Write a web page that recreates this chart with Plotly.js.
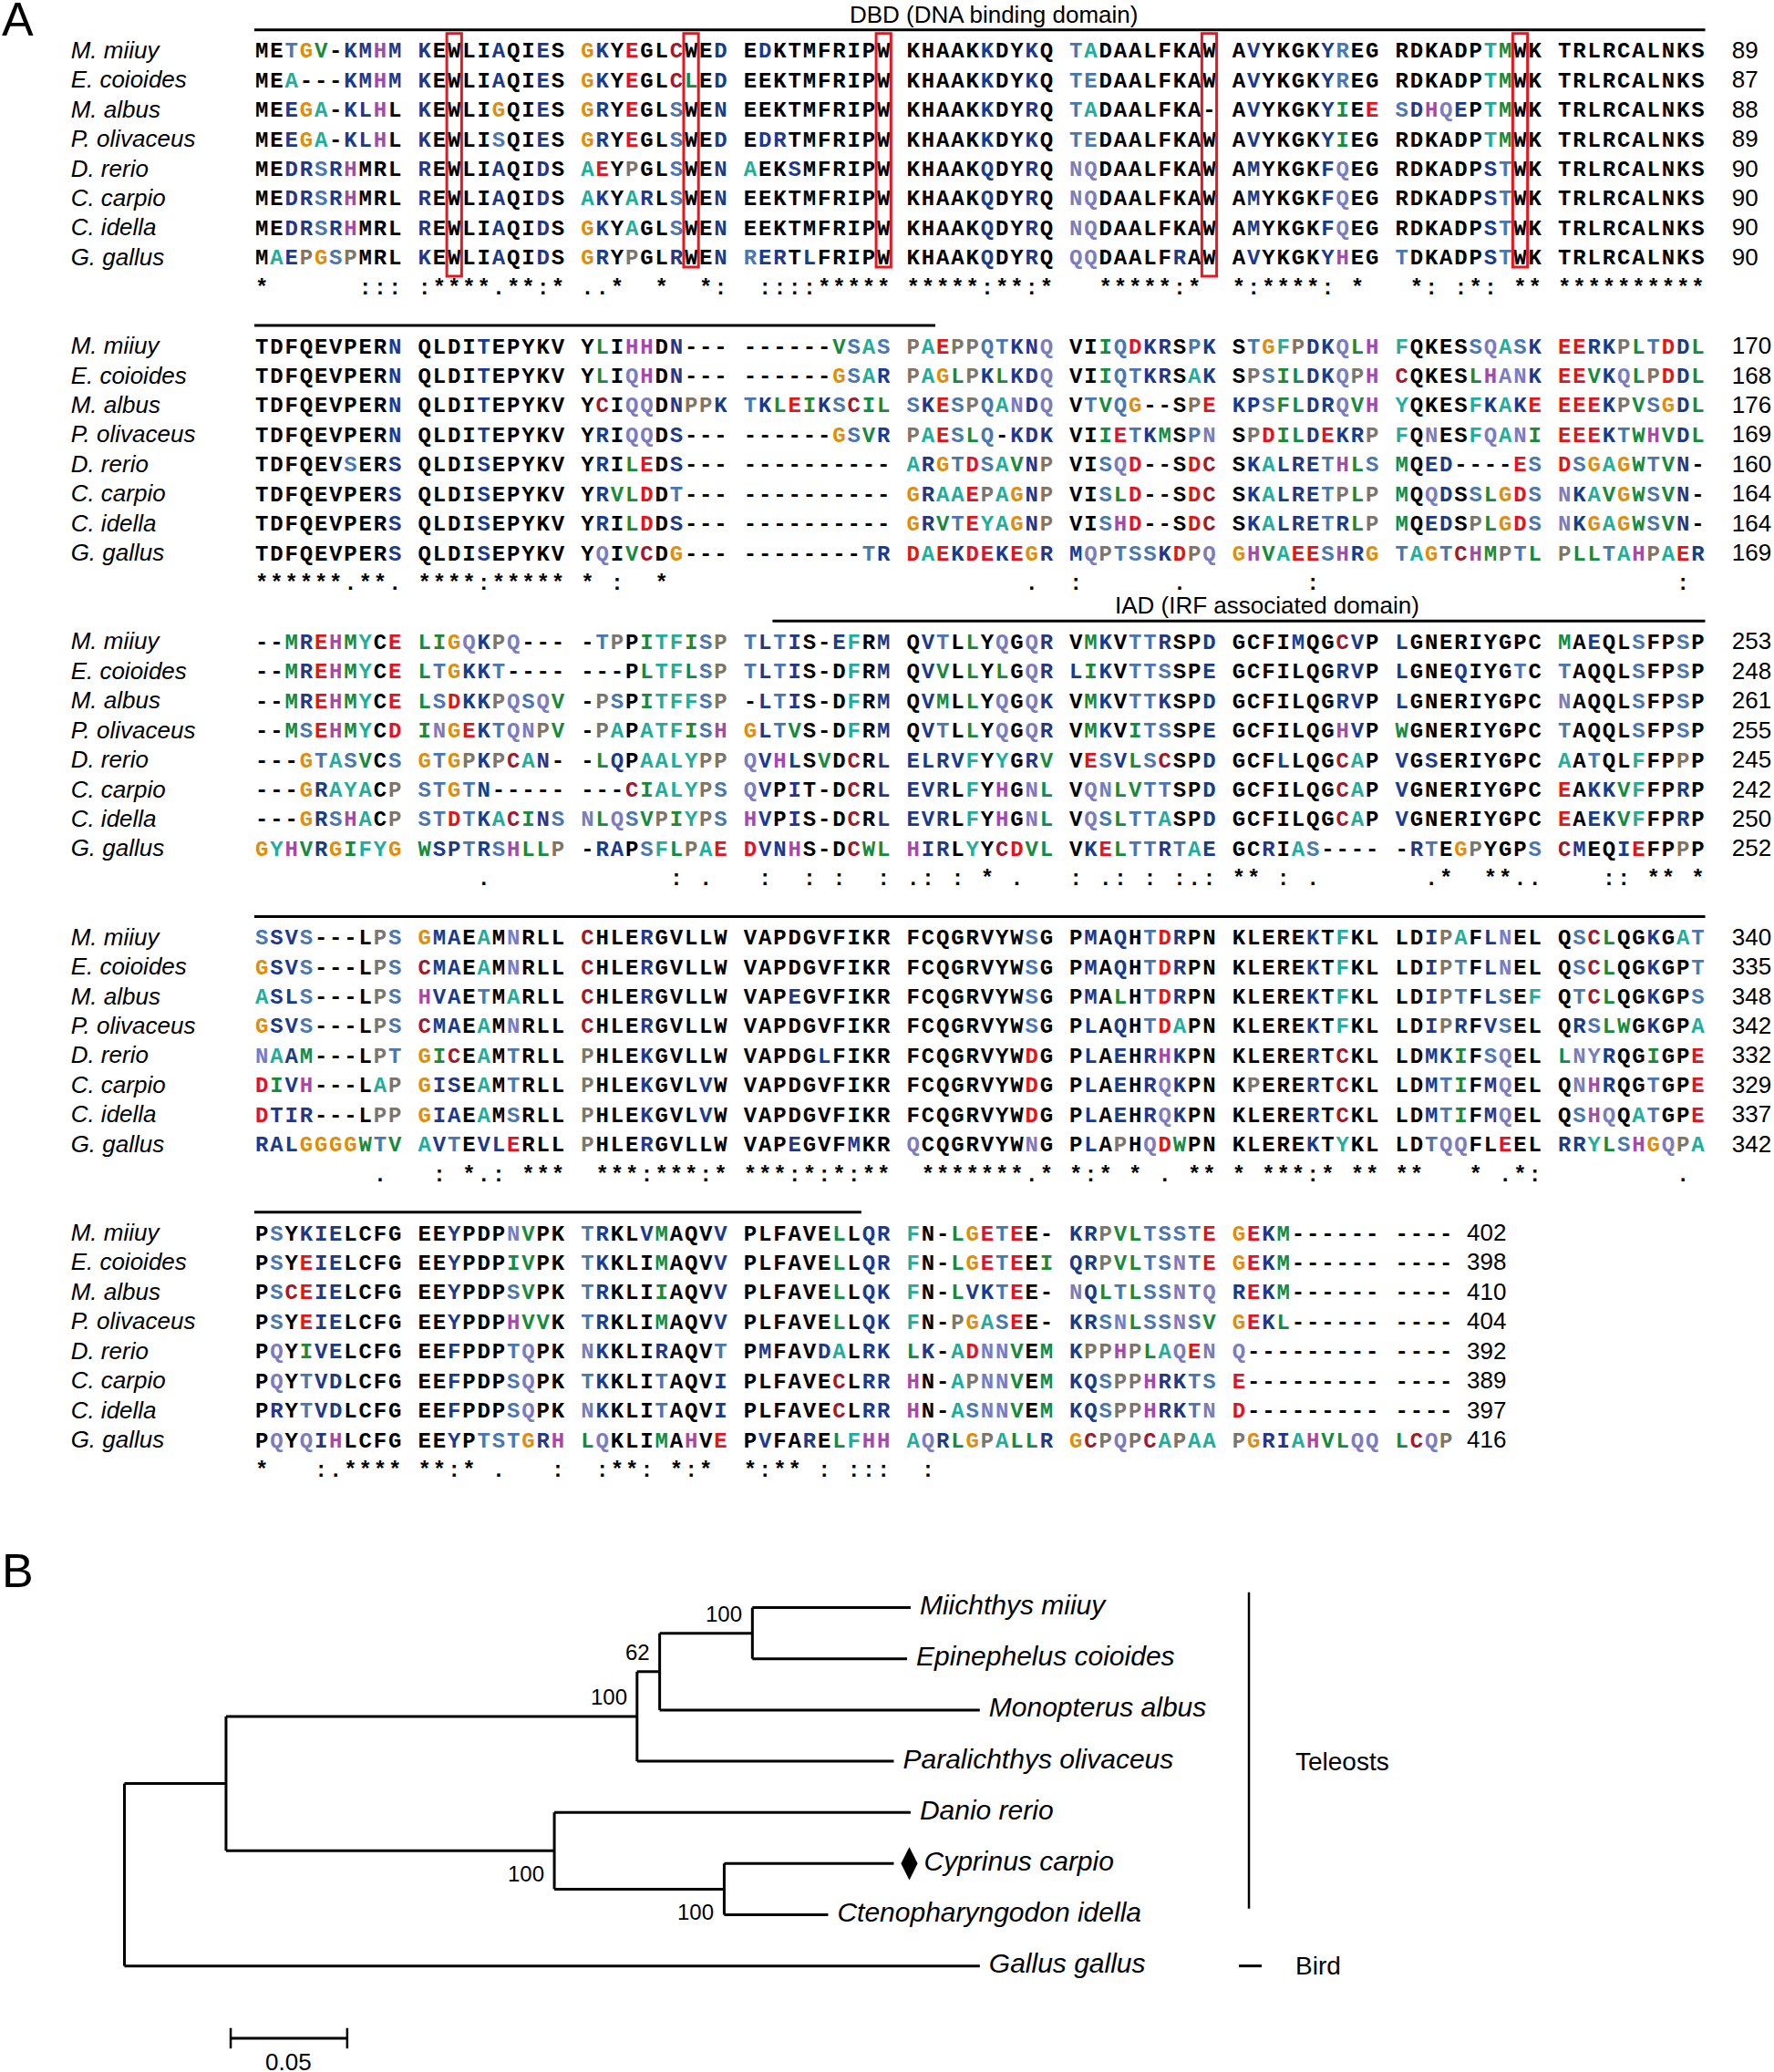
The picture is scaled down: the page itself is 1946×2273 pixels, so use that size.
<!DOCTYPE html>
<html><head><meta charset="utf-8">
<script src="https://cdn.plot.ly/plotly-3.0.1.min.js"></script>
<style>html,body{margin:0;padding:0;background:#fff}</style>
</head><body>
<div id="chart" style="width:1946px;height:2273px"></div>
<script>
// ---------------- DATA ----------------
const speciesShort = ['M. miiuy','E. coioides','M. albus','P. olivaceus','D. rerio','C. carpio','C. idella','G. gallus'];

const sequences = [
 'METGV-KMHM KEWLIAQIES GKYEGLCWED EDKTMFRIPW KHAAKKDYKQ TADAALFKAW AVYKGKYREG RDKADPTMWK TRLRCALNKS TDFQEVPERN QLDITEPYKV YLIHHDN--- ------VSAS PAEPPQTKNQ VIIQDKRSPK STGFPDKQLH FQKESSQASK EERKPLTDDL --MREHMYCE LIGQKPQ--- -TPPITFISP TLTIS-EFRM QVTLLYQGQR VMKVTTRSPD GCFIMQGCVP LGNERIYGPC MAEQLSFPSP SSVS---LPS GMAEAMNRLL CHLERGVLLW VAPDGVFIKR FCQGRVYWSG PMAQHTDRPN KLEREKTFKL LDIPAFLNEL QSCLQGKGAT PSYKIELCFG EEYPDPNVPK TRKLVMAQVV PLFAVELLQR FN-LGETEE- KRPVLTSSTE GEKM------ ----',
 'MEA---KMHM KEWLIAQIES GKYEGLCLED EEKTMFRIPW KHAAKKDYKQ TEDAALFKAW AVYKGKYREG RDKADPTMWK TRLRCALNKS TDFQEVPERN QLDITEPYKV YLIQHDN--- ------GSAR PAGLPKLKDQ VIIQTKRSAK SPSILDKQPH CQKESLHANK EEVKQLPDDL --MREHMYCE LTGKKT---- ---PLTFLSP TLTIS-DFRM QVVLLYLGQR LIKVTTSSPE GCFILQGRVP LGNEQIYGTC TAQQLSFPSP GSVS---LPS CMAEAMNRLL CHLERGVLLW VAPDGVFIKR FCQGRVYWSG PMAQHTDRPN KLEREKTFKL LDIPTFLNEL QSCLQGKGPT PSYEIELCFG EEYPDPIVPK TKKLIMAQVV PLFAVELLQR FN-LGETEEI QRPVLTSNTE GEKM------ ----',
 'MEEGA-KLHL KEWLIGQIES GRYEGLSWEN EEKTMFRIPW KHAAKKDYRQ TADAALFKA- AVYKGKYIEE SDHQEPTMWK TRLRCALNKS TDFQEVPERN QLDITEPYKV YCIQQDNPPK TKLEIKSCIL SKESPQANDQ VTVQG--SPE KPSFLDRQVH YQKESFKAKE EEEKPVSGDL --MREHMYCE LSDKKPQSQV -PSPITFFSP -LTIS-DFRM QVMLLYQGQK VMKVTTKSPD GCFILQGRVP LGNERIYGPC NAQQLSFPSP ASLS---LPS HVAETMARLL CHLERGVLLW VAPEGVFIKR FCQGRVYWSG PMALHTDRPN KLEREKTFKL LDIPTFLSEF QTCLQGKGPS PSCEIELCFG EEYPDPSVPK TRKLIIAQVV PLFAVELLQK FN-LVKTEE- NQLTLSSNTQ REKM------ ----',
 'MEEGA-KLHL KEWLISQIES GRYEGLSWED EDRTMFRIPW KHAAKKDYKQ TEDAALFKAW AVYKGKYIEG RDKADPTMWK TRLRCALNKS TDFQEVPERN QLDITEPYKV YRIQQDS--- ------GSVR PAESLQ-KDK VIIETKMSPN SPDILDEKRP FQNESFQANI EEEKTWHVDL --MSEHMYCD INGEKTQNPV -PAPATFISH GLTVS-DFRM QVTLLYQGQR VMKVITSSPE GCFILQGHVP WGNERIYGPC TAQQLSFPSP GSVS---LPS CMAEAMNRLL CHLERGVLLW VAPDGVFIKR FCQGRVYWSG PLAQHTDAPN KLEREKTFKL LDIPRFVSEL QRSLWGKGPA PSYEIELCFG EEYPDPHVVK TRKLIMAQVV PLFAVELLQK FN-PGASEE- KRSNLSSNSV GEKL------ ----',
 'MEDRSRHMRL REWLIAQIDS AEYPGLSWEN AEKSMFRIPW KHAAKQDYRQ NQDAALFKAW AMYKGKFQEG RDKADPSTWK TRLRCALNKS TDFQEVSERS QLDISEPYKV YRILEDS--- ---------- ARGTDSAVNP VISQD--SDC SKALRETHLS MQED----ES DSGAGWTVN- ---GTASVCS GTGPKPCAN- -LQPAALYPP QVHLSVDCRL ELRVFYYGRV VESVLSCSPD GCFLLQGCAP VGSERIYGPC AATQLFFPPP NAAM---LPT GICEAMTRLL PHLEKGVLLW VAPDGLFIKR FCQGRVYWDG PLAEHRHKPN KLERERTCKL LDMKIFSQEL LNYRQGIGPE PQYIVELCFG EEFPDPTQPK NKKLIRAQVT PMFAVDALRK LK-ADNNVEM KPPHPLAQEN Q--------- ----',
 'MEDRSRHMRL REWLIAQIDS AKYARLSWEN EEKTMFRIPW KHAAKQDYRQ NQDAALFKAW AMYKGKFQEG RDKADPSTWK TRLRCALNKS TDFQEVPERS QLDISEPYKV YRVLDDT--- ---------- GRAAEPAGNP VISLD--SDC SKALRETPLP MQQDSSLGDS NKAVGWSVN- ---GRAYACP STGTN----- ---CIALYPS QVPIT-DCRL EVRLFYHGNL VQNLVTTSPD GCFILQGCAP VGNERIYGPC EAKKVFFPRP DIVH---LAP GISEAMTRLL PHLEKGVLVW VAPDGVFIKR FCQGRVYWDG PLAEHRQKPN KPERERTCKL LDMTIFMQEL QNHRQGTGPE PQYTVDLCFG EEFPDPSQPK TKKLITAQVI PLFAVECLRR HN-APNNVEM KQSPPHRKTS E--------- ----',
 'MEDRSRHMRL REWLIAQIDS GKYAGLSWEN EEKTMFRIPW KHAAKQDYRQ NQDAALFKAW AMYKGKFQEG RDKADPSTWK TRLRCALNKS TDFQEVPERS QLDISEPYKV YRILDDS--- ---------- GRVTEYAGNP VISHD--SDC SKALRETRLP MQEDSPLGDS NKGAGWSVN- ---GRSHACP STDTKACINS NLQSVPIYPS HVPIS-DCRL EVRLFYHGNL VQSLTTASPD GCFILQGCAP VGNERIYGPC EAEKVFFPRP DTIR---LPP GIAEAMSRLL PHLEKGVLVW VAPDGVFIKR FCQGRVYWDG PLAEHRQKPN KLERERTCKL LDMTIFMQEL QSHQQATGPE PRYTVDLCFG EEFPDPSQPK NKKLITAQVI PLFAVECLRR HN-ASNNVEM KQSPPHRKTN D--------- ----',
 'MAEPGSPMRL KEWLIAQIDS GRYPGLRWEN RERTLFRIPW KHAAKQDYRQ QQDAALFRAW AVYKGKYHEG TDKADPSTWK TRLRCALNKS TDFQEVPERS QLDISEPYKV YQIVCDG--- --------TR DAEKDEKEGR MQPTSSKDPQ GHVAEESHRG TAGTCHMPTL PLLTAHPAER GYHVRGIFYG WSPTRSHLLP -RAPSFLPAE DVNHS-DCWL HIRLYYCDVL VKELTTRTAE GCRIAS---- -RTEGPYGPS CMEQIEFPPP RALGGGGWTV AVTEVLERLL PHLERGVLLW VAPEGVFMKR QCQGRVYWNG PLAPHQDWPN KLEREKTYKL LDTQQFLEEL RRYLSHGQPA PQYQIHLCFG EEYPTSTGRH LQKLIMAHVE PVFARELFHH AQRLGPALLR GCPQPCAPAA PGRIAHVLQQ LCQP'
];

// residue colour classes (k black, b navy, s steel blue, t teal, g green, o orange, r red, m magenta, p lavender, w grey-brown, c dark red)
const residueColors = [
 'kksogkbbmb bkkkkbkkbk obkrkkckkb kbkkkkkkkk kkkkkbkkbk stkkkkkkkk kbkkkkbskk kkkkkktgkk kkkkkkkkkk kkkkkkkkkb kkkkbkkkkk kgkmmkbkkk kkkkkkgsts wtrwwssbbp kkgsrbbksb ksotwbbpgm tkkkksptsb rrbbwgsrbg kkgbrmgtkr ggopbwpkkk kswkgttgsw sbsbkkbtkb kbskgkpkpb kgbkssbkkb kkkkbkkcbk bkkkkkkkkk gkbkkskksk sbbskkkkws obbktkpkkk ckkkbkkkkk kkkkkkkkkk kkkkkkkksk kbkbksrbkk kkkkkbktkk kkbwtkbpkk kscgkkbkts kskbbbkkkk kkbkkkpgkk sbkkbgkkkb kkkkkkgkbb tkkgorsrkk bbwggssssr orbgkkkkkk kkkk',
 'kktkkkbbmb bkkkkbkkbk obkrkkcgkb kkkkkkkkkk kkkkkbkkbk sskkkkkkkk kbkkkkbskk kkkkkktgkk kkkkkkkkkk kkkkkkkkkb kkkkbkkkkk kgkpmkbkkk kkkkkkostb wtogwbgbbp kkgssbbktb kwsggbbpwm ckkkkgmppb rrgbpgwrbg kkgbrmgtkr gsobbskkkk kkkkgttgsw sbsbkkktkb kbgkgkgkpb bgbkssskkb kkkkkkkbbk bkkkbkkksk skkkkskksk obbskkkkws cbbktkpkkk ckkkbkkkkk kkkkkkkkkk kkkkkkkksk kbkbksrbkk kkkkkbktkk kkbwskbpkk kscgkkbkks kskrbbkkkk kkbkkkggkk sbkkkgkkkb kkkkkkgkbb tkkgorsrkg bbwggsspsr orbgkkkkkk kkkk',
 'kkbotkbbmk bkkkkokkbk obkrkkskkb kkkkkkkkkk kkkkkbkkbk stkkkkkkkk kbkkkkbgkr sbmpbktgkk kkkkkkkkkk kkkkkkkkkb kkkkbkkkkk kckppkbwwb sbgrgbscgg sbrswstpbp ksgsokkkwr bbsggbbpgm tkkkktbtbr rrrbwgsobg kkgbrmgtkr gsrbbwpspg kwskgtttsw kbsbkkktkb kbgkgkpkpb kgbkssbkkb kkkkkkkbbk bkkkkkkkkk pkkkkskksk tbbskkkkws mbbksktkkk ckkkbkkkkk kkkbkkkkkk kkkkkkkksk kbkgksrbkk kkkkkbktkk kkbwskbskt kscgkkbkks kscrbbkkkk kkbkkksgkk sbkkkgkkkb kkkkkkgkbb tkkgbbsrkk pbgsgsspsp brbgkkkkkk kkkk',
 'kkbotkbbmk bkkkkskkbk obkrkkskkb kbbkkkkkkk kkkkkbkkbk sskkkkkkkk kbkkkkbgkk kkkkkktgkk kkkkkkkkkk kkkkkkkkkb kkkkbkkkkk kbkppkbkkk kkkkkkosgb wtrsgskbbb kkgrsbgksp kwrggbrbbw tkpkktptpg rrrbsgmgbg kkgsrmgtkr gporbsppwg kwtktttgsm obsgkkktkb kbskgkpkpb kgbkgsskkb kkkkkkkmbk gkkkkkkkkk skkkkskksk obbskkkkws cbbktkpkkk ckkkbkkkkk kkkkkkkkkk kkkkkkkksk kbkbksrtkk kkkkkbktkk kkbwbkbskk kbsggkbkkt kskrbbkkkk kkbkkkmggk sbkkkgkkkb kkkkkkgkbb tkkwotsrkk bbspgsspsg orbgkkkkkk kkkk',
 'kkbbsbmkkk bkkkkbkkbk trkwkkskkb tkkbkkkkkk kkkkkbkkbk ppkkkkkkkk kbkkkkbpkk kkkkkkbskk kkkkkkkkkk kkkkkkskkb kkkkbkkkkk kbkgrkbkkk kkkkkkkkkk tbosrstgbw kksprkkkrc kbtbbbsmgs gkbbkkkkrs rsotogsgbk kkkostsgks osowbwctbk kgbkttttww pbmbkgkckb bbbbtktkbg krsbgsckkb kkkbkkkctk bkbkkkkkkk tkskktkkwk ptbgkkkkws ogcktkskkk wkkkbkkkkk kkkkkbkkkk kkkkkkkkrk kbkbkbmbkk kkkkkbkckk kkbbgkspkk gppbkkgkkr kpkgbbkkkk kkbkkkspkk pbkkkbkkks kbkkkbtkbb gbktrppgkg bwwmwgtprp pkkkkkkkkk kkkk',
 'kkbbsbmkkk bkkkkbkkbk tbktbkskkb kkkkkkkkkk kkkkkbkkbk ppkkkkkkkk kbkkkkbpkk kkkkkkbskk kkkkkkkkkk kkkkkkkkkb kkkkbkkkkk kbggrkskkk kkkkkkkkkk obttrwtobw kksgrkkkrc kbtbbbswgw gkpbksgors pbtgogsgbk kkkobtttkw ssosbkkkkk kkkcgtttws pbkbkkkckb bbbktkmkpg kppggsskkb kkkkkkkctk bkkkkkkkkk rkbbgtkkbk rgbmkkkktw obbktkskkk wkkkbkkkbk kkkkkkkkkk kkkkkkkkrk kbkbkbpbkk kwkkkbkckk kkbsgkbpkk kpmbkkskkr kpksbbkkkk kkbkkkspkk sbkkkskkkb kkkkkkckbb mkktwppgkg bbswwmbbss rkkkkkkkkk kkkk',
 'kkbbsbmkkk bkkkkbkkbk obktkkskkb kkkkkkkkkk kkkkkbkkbk ppkkkkkkkk kbkkkkbpkk kkkkkkbskk kkkkkkkkkk kkkkkkkkkb kkkkbkkkkk kbkgrkbkkk kkkkkkkkkk obgsrttobw kksmrkkkrc kbtbbbsbgw gkbbkwgors pbotogsgbk kkkobsmtkw ssrsbtcgbs pgpsgwgtws mbkbkkkckb bbbktkmkpg kpsgsstkkb kkkkkkkctk bkkkkkkkkk rkbbgtkkbk rbbbkkkkww obbktkskkk wkkkbkkkbk kkkkkkkkkk kkkkkkkkrk kbkbkbpbkk kkkkkbkckk kkbsgkbpkk ksmpktskkr kbksbbkkkk kkbkkkspkk pbkkkskkkb kkkkkkckbb mkktsppgkg bbswwmbbsp rkkkkkkkkk kkkk',
 'ktbwoswkkk bkkkkbkkbk obkwkkbkkb sbbkbkkkkk kkkkkbkkbk ppkkkkkbkk kbkkkkbmkk skkkkkbskk kkkkkkkkkk kkkkkkkkkb kkkkbkkkkk kpkgckokkk kkkkkkkksb rtrbrrbrob bpwsssbrwp omgtrrsmbo stoscmgwsg wggstmwtrb otmgbogtto gbbsbsmggw kbbkstgwtr rbbmkkkcgg mbbktkcrgg kbrgssbstb kkbktskkkk kbskowkkks cbkkbrkkwk bbboooogsg tbskbbrkkk wkkkbkkkkk kkkbkkkbkk pkkkkkkkpk kbkwkprgkk kkkkkbktkk kksppkkrkk bbtgsmopwt kpkpbmkkkk kkbksssobm gpkkkgkmkr kbkkbkgtmm tpbgowtggb ocwpwctwtt wobbtmggpp gcpw'
];

const consensusLine = [
 '*      :::', ':****.**:*', '..*  *  *:', ' ::::*****', '*****:**:*', '  *****:* ', '*:****: * ', ' *: :*: **', '**********',
 '******.**.', '****:*****', '* :  *    ', '          ', '        . ', ':      .  ', '     :    ', '          ', '        : ',
 '          ', '    .     ', '      : . ', ' :  : :  :', '.: : * .  ', ': .: : :.:', '** : .    ', '  .*  **..', '   :: ** *',
 '        . ', ' : *.: ***', ' ***:***:*', '***:*:*:**', ' *******.*', '*:* * . **', '* ***:* **', '**   * .*:', '        . ',
 '*   :.****', '**:* .   :', ' :**: *:* ', '*:** : :::', ' :        ', '          ', '          ', '    '
];

const boxedColumns = [13, 28, 40, 60, 79];           // conserved tryptophans (1-based alignment columns)
const domainNames = ['DBD (DNA binding domain)', 'IAD (IRF associated domain)'];
const domainStart = [1, 213];                          // alignment columns
const domainEnd = [132, 398];

// phylogenetic tree
const treeNodes   = ['root','teleosts','percomorph','n62','n100a','Miichthys miiuy','Epinephelus coioides','Monopterus albus','Paralichthys olivaceus','cyprinid','n100c','Danio rerio','Cyprinus carpio','Ctenopharyngodon idella','Gallus gallus'];
const treeParents = [null,'root','teleosts','percomorph','n62','n100a','n100a','n62','percomorph','teleosts','cyprinid','cyprinid','n100c','n100c','root'];
const branchLengths = [0, 0.0436, 0.1764, 0.0097, 0.0398, 0.0679, 0.0664, 0.1374, 0.1102, 0.1409, 0.0729, 0.1529, 0.0728, 0.0446, 0.3671];
const bootstrapValues = [null, null, 100, 62, 100, null, null, null, null, 100, 100, null, null, null, null];
const highlightedLeaf = 'Cyprinus carpio';
const groupNames = ['Teleosts', 'Bird'];
const groupFirstLeaf = ['Miichthys miiuy', 'Gallus gallus'];
const groupLastLeaf = ['Ctenopharyngodon idella', 'Gallus gallus'];
const scaleBarLength = 0.05;

// ---------------- LAYOUT HELPERS ----------------
const BLOCK = 90;
const slotOf = c => { const ci = c % BLOCK; return ci + Math.floor(ci / 10); };
const lineOf = (c, row) => Math.floor(c / BLOCK) * 10 + row;

const palette = {k:'#000000', b:'#1c3a8c', s:'#4a77b0', t:'#22ad9b', g:'#188a3c', o:'#e08d0c', r:'#e3141c', m:'#a548a9', p:'#7b7bc0', w:'#7e7467', c:'#a01a2c'};
const monoFont = "'Courier New', 'Liberation Mono', 'DejaVu Sans Mono', monospace";
const sansFont = "Arial, 'Liberation Sans', Helvetica, sans-serif";

const traces = [];
const groupsSeq = sequences.map(s => s.split(' '));
const groupsCol = residueColors.map(s => s.split(' '));
const byColor = {};
const rowSeqs = [];
groupsSeq.forEach((grp, r) => {
  let full = '', cols = '';
  grp.forEach((g, gi) => {
    let cg = (groupsCol[r][gi] || '');
    cg = (cg + 'k'.repeat(g.length)).slice(0, g.length);
    full += g; cols += cg;
  });
  rowSeqs.push(full);
  for (let c = 0; c < full.length; c++) {
    const code = palette[cols[c]] ? cols[c] : 'k';
    const bucket = byColor[code] || (byColor[code] = {x: [], y: [], t: []});
    bucket.x.push(slotOf(c)); bucket.y.push(lineOf(c, r)); bucket.t.push(full[c]);
  }
});
Object.keys(byColor).forEach(code => {
  const b = byColor[code];
  traces.push({type:'scatter', mode:'text', x:b.x, y:b.y, text:b.t, textposition:'middle center', cliponaxis:false, hoverinfo:'skip',
    textfont:{family:monoFont, size:24, color:palette[code], weight:'bold'}, xaxis:'x', yaxis:'y'});
});

const nCols = rowSeqs[0].length;
const nBlocks = Math.ceil(nCols / BLOCK);

// consensus
const cons = consensusLine.join('');
const cx = [], cy = [], ct = [];
for (let c = 0; c < cons.length; c++) { if (cons[c] !== ' ') { cx.push(slotOf(c)); cy.push(lineOf(c, 8)); ct.push(cons[c]); } }
traces.push({type:'scatter', mode:'text', x:cx, y:cy, text:ct, textposition:'middle center', cliponaxis:false, hoverinfo:'skip',
  textfont:{family:monoFont, size:24, color:'#000', weight:'bold'}});

// names and residue numbers
const nx = [], ny = [], nt = [], mx = [], my = [], mt = [];
for (let b = 0; b < nBlocks; b++) {
  const lastCol = Math.min(nCols, (b + 1) * BLOCK) - 1;
  const full = (lastCol - b * BLOCK + 1) === BLOCK;
  rowSeqs.forEach((s, r) => {
    nx.push(-12.9); ny.push(b * 10 + r); nt.push(speciesShort[r]);
    const count = s.slice(0, lastCol + 1).replace(/-/g, '').length;
    mx.push(slotOf(lastCol) + (full ? 2.3 : 1.4)); my.push(b * 10 + r); mt.push(String(count));
  });
}
traces.push({type:'scatter', mode:'text', x:nx, y:ny, text:nt, textposition:'middle right', cliponaxis:false, hoverinfo:'skip',
  textfont:{family:sansFont, size:26, color:'#000', style:'italic'}});
traces.push({type:'scatter', mode:'text', x:mx, y:my, text:mt, textposition:'middle right', cliponaxis:false, hoverinfo:'skip',
  textfont:{family:sansFont, size:26, color:'#000'}});

const shapes = [];
const annotations = [];
// red boxes
boxedColumns.forEach((col, i) => {
  const c = col - 1, s = slotOf(c), b = Math.floor(c / BLOCK);
  const tall = (i === 0 || i === 3);
  shapes.push({type:'rect', xref:'x', yref:'y', x0:s - 0.5, x1:s + 0.5, y0:b * 10 - 0.63, y1:b * 10 + (tall ? 7.58 : 7.27),
    line:{color:'#e8161e', width:3}, fillcolor:'rgba(0,0,0,0)'});
});
// domain lines and labels
domainNames.forEach((name, d) => {
  let first = true;
  for (let b = 0; b < nBlocks; b++) {
    const s0 = Math.max(domainStart[d] - 1, b * BLOCK);
    const s1 = Math.min(domainEnd[d] - 1, (b + 1) * BLOCK - 1, nCols - 1);
    if (s0 > s1) continue;
    const y = b * 10 - 0.76;
    const xa = slotOf(s0) - 0.5, xb = slotOf(s1) + 0.5;
    shapes.push({type:'line', xref:'x', yref:'y', x0:xa, x1:xb, y0:y, y1:y, line:{color:'#000', width:3}});
    if (first) {
      annotations.push({xref:'x', yref:'y', x:(xa + xb) / 2, y:y, xanchor:'center', yanchor:'bottom', showarrow:false,
        xshift: d === 0 ? 15 : 31, yshift:0, text:name, font:{family:sansFont, size:26, color:'#000'}});
      first = false;
    }
  }
});

// ---------------- TREE ----------------
const idx = {}; treeNodes.forEach((n, i) => idx[n] = i);
const children = treeNodes.map(() => []);
treeParents.forEach((p, i) => { if (p !== null) children[idx[p]].push(i); });
const depth = treeNodes.map(() => 0);
treeNodes.forEach((n, i) => { if (treeParents[i] !== null) depth[i] = depth[idx[treeParents[i]]] + branchLengths[i]; });
const ypos = treeNodes.map(() => null);
let leafCounter = 0;
treeNodes.forEach((n, i) => { if (children[i].length === 0) ypos[i] = leafCounter++; });
for (let i = treeNodes.length - 1; i >= 0; i--) {
  if (children[i].length) {
    const ys = children[i].map(j => ypos[j]);
    ypos[i] = (Math.min(...ys) + Math.max(...ys)) / 2;
  }
}
// (children listed after parents, so resolve again in depth order)
function resolveY(i) { if (children[i].length === 0) return ypos[i]; const ys = children[i].map(resolveY); ypos[i] = (Math.min(...ys) + Math.max(...ys)) / 2; return ypos[i]; }
resolveY(0);

const tx = [], ty = [];
treeNodes.forEach((n, i) => {
  if (treeParents[i] !== null) { tx.push(depth[idx[treeParents[i]]], depth[i], null); ty.push(ypos[i], ypos[i], null); }
  if (children[i].length) {
    const ys = children[i].map(j => ypos[j]);
    tx.push(depth[i], depth[i], null); ty.push(Math.min(...ys), Math.max(...ys), null);
  }
});
traces.push({type:'scatter', mode:'lines', x:tx, y:ty, xaxis:'x2', yaxis:'y2', line:{color:'#000', width:3}, hoverinfo:'skip'});

const px = 1 / 2556; // tree units per pixel
const lx = [], ly = [], lt = [];
treeNodes.forEach((n, i) => {
  if (children[i].length === 0) {
    lx.push(depth[i] + (n === highlightedLeaf ? 33 : 10) * px); ly.push(ypos[i]); lt.push(n);
  }
});
traces.push({type:'scatter', mode:'text', x:lx, y:ly, text:lt, textposition:'middle right', xaxis:'x2', yaxis:'y2', cliponaxis:false, hoverinfo:'skip',
  textfont:{family:sansFont, size:30, color:'#000', style:'italic'}});
const hl = idx[highlightedLeaf];
traces.push({type:'scatter', mode:'markers', x:[depth[hl] + 17 * px], y:[ypos[hl]], xaxis:'x2', yaxis:'y2', hoverinfo:'skip',
  marker:{symbol:'diamond-tall', size:26, color:'#000'}});

const teleY = ypos[idx['teleosts']];
treeNodes.forEach((n, i) => {
  if (bootstrapValues[i] !== null) {
    const above = ypos[i] < teleY;
    annotations.push({xref:'x2', yref:'y2', x:depth[i], y:ypos[i], xanchor:'right', yanchor:'middle', showarrow:false,
      xshift:-9, yshift: above ? 21 : -25, text:String(bootstrapValues[i]), font:{family:sansFont, size:24, color:'#000'}});
  }
});

// group brackets
const bracketX = 0.4826;
groupNames.forEach((g, k) => {
  const a = ypos[idx[groupFirstLeaf[k]]], b = ypos[idx[groupLastLeaf[k]]];
  if (a === b) {
    shapes.push({type:'line', xref:'x2', yref:'y2', x0:bracketX - 11 * px, x1:bracketX + 14 * px, y0:a, y1:a, line:{color:'#000', width:3}});
  } else {
    shapes.push({type:'line', xref:'x2', yref:'y2', x0:bracketX, x1:bracketX, y0:a - 0.3, y1:b - 0.12, line:{color:'#000', width:2.5}});
  }
  annotations.push({xref:'x2', yref:'y2', x:bracketX + 49 * px, y:(a + b) / 2, xanchor:'left', yanchor:'middle', showarrow:false,
    text:g, font:{family:sansFont, size:28, color:'#000'}});
});

// scale bar
const sbX0 = 0.0456, sbY = 8.413;
shapes.push({type:'line', xref:'x2', yref:'y2', x0:sbX0, x1:sbX0 + scaleBarLength, y0:sbY, y1:sbY, line:{color:'#000', width:3}});
shapes.push({type:'line', xref:'x2', yref:'y2', x0:sbX0, x1:sbX0, y0:sbY - 0.2, y1:sbY + 0.2, line:{color:'#000', width:2.5}});
shapes.push({type:'line', xref:'x2', yref:'y2', x0:sbX0 + scaleBarLength, x1:sbX0 + scaleBarLength, y0:sbY - 0.2, y1:sbY + 0.2, line:{color:'#000', width:2.5}});
annotations.push({xref:'x2', yref:'y2', x:sbX0 + scaleBarLength / 2, y:8.876, xanchor:'center', yanchor:'middle', showarrow:false,
  text:String(scaleBarLength), font:{family:sansFont, size:26, color:'#000'}});

// panel letters
annotations.push({xref:'paper', yref:'paper', x:0, y:1 - 21.5 / 2273, xanchor:'left', yanchor:'middle', showarrow:false, text:'A', font:{family:sansFont, size:52, color:'#000'}});
annotations.push({xref:'paper', yref:'paper', x:0, y:1 - 1723 / 2273, xanchor:'left', yanchor:'middle', showarrow:false, text:'B', font:{family:sansFont, size:52, color:'#000'}});

const layout = {
  width:1946, height:2273, margin:{l:0, r:0, t:0, b:0}, paper_bgcolor:'#ffffff', plot_bgcolor:'rgba(0,0,0,0)', showlegend:false,
  xaxis:{domain:[0,1], range:[-17.680, 102.148], visible:false, fixedrange:true},
  yaxis:{domain:[0.26089,1], range:[50.037, -1.7669], visible:false, fixedrange:true},
  xaxis2:{domain:[0,1], range:[-0.053404, 0.70794], anchor:'y2', visible:false, fixedrange:true},
  yaxis2:{domain:[0,0.26089], range:[9.0722, -1.4889], anchor:'x2', visible:false, fixedrange:true},
  shapes:shapes, annotations:annotations
};
Plotly.newPlot('chart', traces, layout, {staticPlot:true, displayModeBar:false});
</script>
</body></html>
